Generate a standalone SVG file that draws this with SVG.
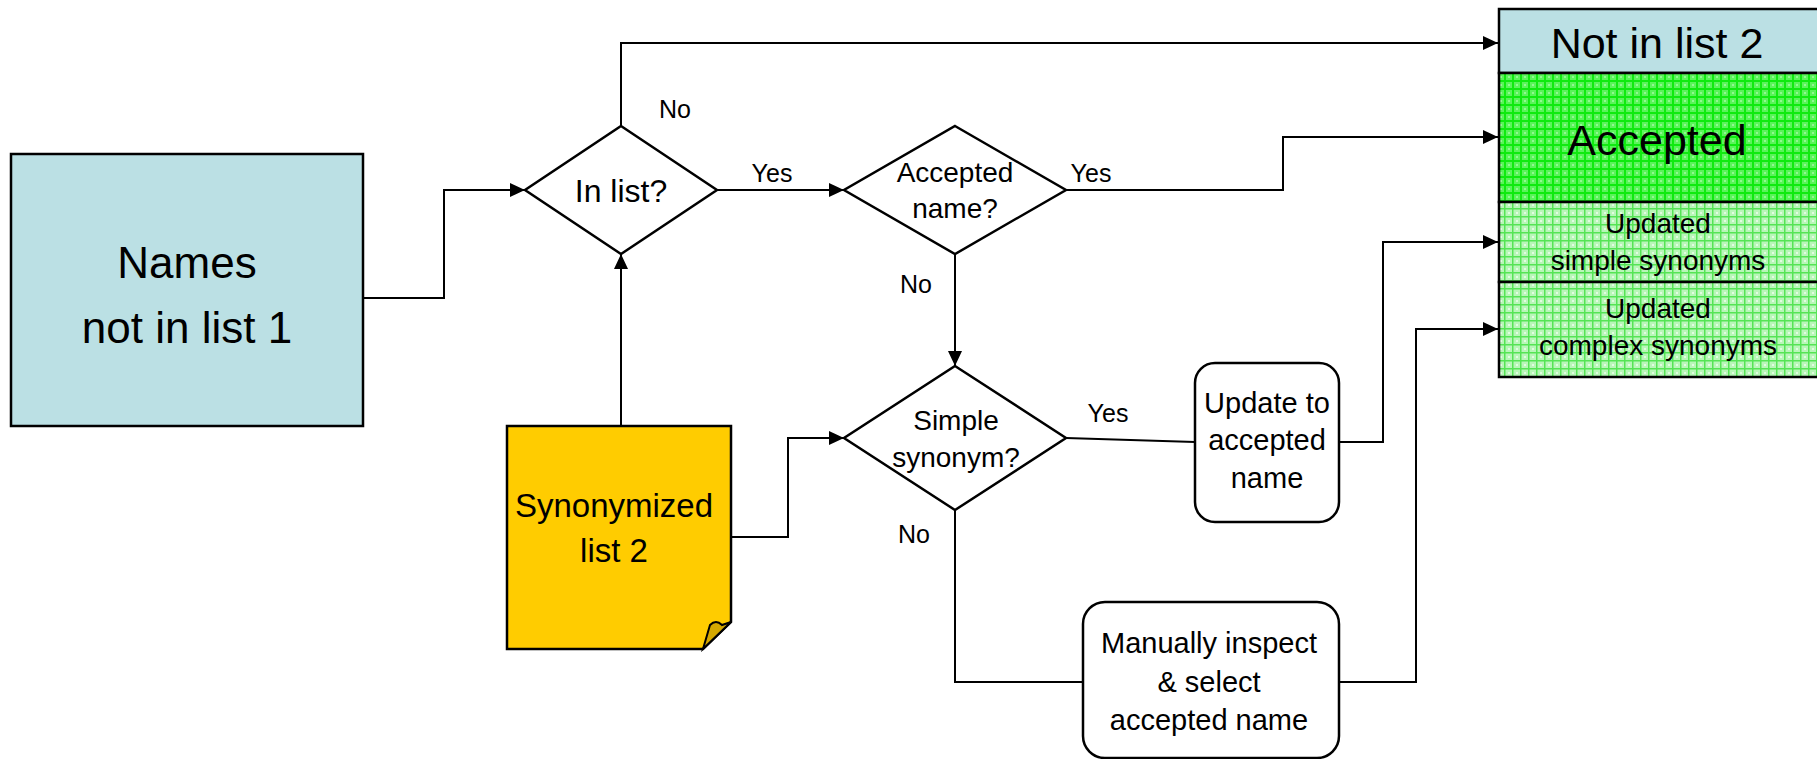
<svg xmlns="http://www.w3.org/2000/svg" width="1817" height="759" viewBox="0 0 1817 759">
<style>
  text { font-family: "Liberation Sans", Arial, sans-serif; fill: #000; text-anchor: middle; }
  .shape { stroke: #000; stroke-width: 2.5; }
  .conn { fill: none; stroke: #000; stroke-width: 2; }
  .blue { fill: #BBE0E4; }
  .white { fill: #fff; }
  .lbl { font-size: 25px; }
</style>
<defs>
  <marker id="arrow" markerUnits="userSpaceOnUse" markerWidth="16" markerHeight="14" refX="15" refY="7" orient="auto">
    <path d="M0,0 L15,7 L0,14 z" fill="#000"/>
  </marker>
  <pattern id="gridA" patternUnits="userSpaceOnUse" width="8" height="8">
    <rect width="8" height="8" fill="#5AF45A"/>
    <rect x="0" y="0" width="8" height="2" fill="#10EA10"/>
    <rect x="0" y="0" width="2" height="8" fill="#10EA10"/>
    <rect x="4" y="4" width="2" height="2" fill="#90F990"/>
  </pattern>
  <pattern id="gridU" patternUnits="userSpaceOnUse" width="8" height="8">
    <rect width="8" height="8" fill="#B8F6B8"/>
    <rect x="0" y="0" width="8" height="1.5" fill="#55E455"/>
    <rect x="0" y="0" width="1.5" height="8" fill="#55E455"/>
    <rect x="4" y="4" width="2" height="2" fill="#E0FCE0"/>
  </pattern>
</defs>

<g id="connectors">
  <path class="conn" d="M363,298 H444 V190 H525" marker-end="url(#arrow)"/>
  <path class="conn" d="M621,126 V43 H1498" marker-end="url(#arrow)"/>
  <path class="conn" d="M717,190 H844" marker-end="url(#arrow)"/>
  <path class="conn" d="M621,426 V254" marker-end="url(#arrow)"/>
  <path class="conn" d="M1066,190 H1283 V137 H1498" marker-end="url(#arrow)"/>
  <path class="conn" d="M955,254 V366" marker-end="url(#arrow)"/>
  <path class="conn" d="M731,537 H788 V438 H844" marker-end="url(#arrow)"/>
  <path class="conn" d="M1066,438 L1195,442"/>
  <path class="conn" d="M1339,442 H1383 V242 H1498" marker-end="url(#arrow)"/>
  <path class="conn" d="M955,510 V682 H1083"/>
  <path class="conn" d="M1339,682 H1416 V329 H1498" marker-end="url(#arrow)"/>
  <text class="lbl" x="675" y="118">No</text>
  <text class="lbl" x="772" y="182">Yes</text>
  <text class="lbl" x="1091" y="182">Yes</text>
  <text class="lbl" x="916" y="293">No</text>
  <text class="lbl" x="1108" y="422">Yes</text>
  <text class="lbl" x="914" y="543">No</text>
</g>

<g id="names-not-in-list-1">
  <rect class="shape blue" x="11" y="154" width="352" height="272"/>
  <text x="187" y="278" font-size="44">Names</text>
  <text x="187" y="343" font-size="44">not in list 1</text>
</g>

<g id="in-list">
  <polygon class="shape white" points="621,126 717,190 621,254 525,190"/>
  <text x="621" y="202" font-size="32">In list?</text>
</g>

<g id="accepted-name">
  <polygon class="shape white" points="955,126 1066,190 955,254 844,190"/>
  <text x="955" y="182" font-size="28">Accepted</text>
  <text x="955" y="218" font-size="28">name?</text>
</g>

<g id="synonymized-list-2">
  <path class="shape" fill="#FFCC00" d="M507,426 H731 V622 L703,649 H507 Z"/>
  <path fill="#D4A800" stroke="#000" stroke-width="2" d="M703,649 L710,625 Q716,619 722,625 L731,622 Z"/>
  <text x="614" y="517" font-size="33">Synonymized</text>
  <text x="614" y="562" font-size="33">list 2</text>
</g>

<g id="simple-synonym">
  <polygon class="shape white" points="955,366 1066,438 955,510 844,438"/>
  <text x="956" y="430" font-size="28">Simple</text>
  <text x="956" y="467" font-size="28">synonym?</text>
</g>

<g id="update-to-accepted">
  <rect class="shape white" x="1195" y="363" width="144" height="159" rx="20"/>
  <text x="1267" y="413" font-size="29">Update to</text>
  <text x="1267" y="450" font-size="29">accepted</text>
  <text x="1267" y="488" font-size="29">name</text>
</g>

<g id="manually-inspect">
  <rect class="shape white" x="1083" y="602" width="256" height="156" rx="22"/>
  <text x="1209" y="653" font-size="29">Manually inspect</text>
  <text x="1209" y="692" font-size="29">&amp; select</text>
  <text x="1209" y="730" font-size="29">accepted name</text>
</g>

<g id="not-in-list-2">
  <rect class="shape blue" x="1499" y="9" width="340" height="64"/>
  <text x="1657" y="58" font-size="43">Not in list 2</text>
</g>

<g id="accepted">
  <rect class="shape" fill="url(#gridA)" x="1499" y="73" width="340" height="129"/>
  <text x="1657" y="155" font-size="43">Accepted</text>
</g>

<g id="updated-simple">
  <rect class="shape" fill="url(#gridU)" x="1499" y="202" width="340" height="80"/>
  <text x="1658" y="233" font-size="28">Updated</text>
  <text x="1658" y="270" font-size="28">simple synonyms</text>
</g>

<g id="updated-complex">
  <rect class="shape" fill="url(#gridU)" x="1499" y="282" width="340" height="95"/>
  <text x="1658" y="318" font-size="28">Updated</text>
  <text x="1658" y="355" font-size="28">complex synonyms</text>
</g>
</svg>
